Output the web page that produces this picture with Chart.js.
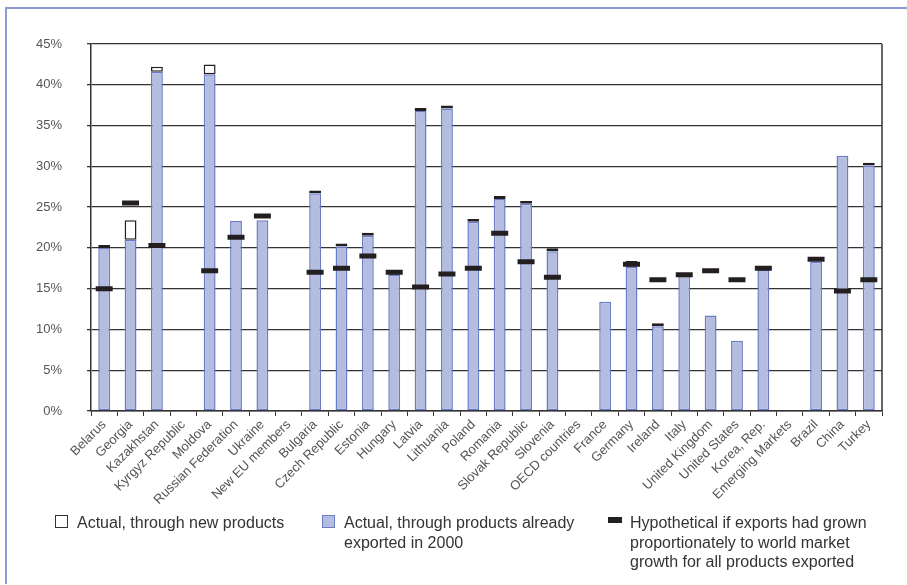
<!DOCTYPE html>
<html>
<head>
<meta charset="utf-8">
<script src="https://cdn.jsdelivr.net/npm/chart.js@4/dist/chart.umd.min.js"></script>
<style>
    body { margin: 0; background: #fff; }
    #wrap { position: relative; width: 907px; height: 585px; overflow: hidden; font-family: "Liberation Sans", Arial, sans-serif; }
    #frame { position: absolute; left: 5px; top: 7px; width: 910px; height: 575px; border-left: 2px solid #8e9ad6; border-top: 2px solid #8e9ad6; }
    #chart { position: absolute; left: 0; top: 0; }
    .lg { position: absolute; font-size: 16px; line-height: 19.5px; color: #333; }
    .sw { position: absolute; box-sizing: border-box; }
</style>
</head>
<body>
<div id="wrap">
    <div id="frame"></div>
    <canvas id="chart" width="907" height="585"></canvas>

    <div class="sw" style="left:55px;top:515px;width:13px;height:13px;background:#fff;border:1.5px solid #333;"></div>
    <div class="lg" style="left:77px;top:513px;">Actual, through new products</div>

    <div class="sw" style="left:322px;top:515px;width:13px;height:13px;background:#b4bce0;border:1.5px solid #6a7cc4;"></div>
    <div class="lg" style="left:344px;top:513px;">Actual, through products already<br>exported in 2000</div>

    <div class="sw" style="left:608px;top:517px;width:14px;height:6px;background:#231f20;"></div>
    <div class="lg" style="left:630px;top:513px;">Hypothetical if exports had grown<br>proportionately to world market<br>growth for all products exported</div>
</div>

<script>
// Export growth decomposition, %
const countries = ['Belarus', 'Georgia', 'Kazakhstan', 'Kyrgyz Republic', 'Moldova', 'Russian Federation', 'Ukraine',
    'New EU members', 'Bulgaria', 'Czech Republic', 'Estonia', 'Hungary', 'Latvia', 'Lithuania', 'Poland', 'Romania',
    'Slovak Republic', 'Slovenia', 'OECD countries', 'France', 'Germany', 'Ireland', 'Italy', 'United Kingdom',
    'United States', 'Korea, Rep.', 'Emerging Markets', 'Brazil', 'China', 'Turkey'];

const existingProducts = [20.0, 21.0, 41.6, null, 41.3, 23.3, 23.4,
    null, 26.7, 20.2, 21.5, 16.7, 36.8, 37.1, 23.2, 26.0,
    25.4, 19.6, null, 13.4, 17.7, 10.4, 16.6, 11.7,
    8.6, 17.3, null, 18.3, 31.3, 30.1];

const newProducts = [0.35, 2.4, 0.6, null, 1.2, null, null,
    null, 0.35, 0.35, 0.35, 0.6, 0.35, 0.35, 0.35, 0.35,
    0.35, 0.35, null, null, 0.7, 0.35, null, null,
    null, null, null, null, null, 0.35];

const hypothetical = [15.0, 25.5, 20.3, null, 17.2, 21.3, 23.9,
    null, 17.0, 17.5, 19.0, 17.0, 15.2, 16.8, 17.5, 21.8,
    18.3, 16.4, null, null, 18.0, 16.1, 16.7, 17.2,
    16.1, 17.5, null, 18.6, 14.7, 16.1];

const yTicks = [0, 5, 10, 15, 20, 25, 30, 35, 40, 45];

const axisColor = '#333';
const tickFont = { family: "'Liberation Sans', Arial, sans-serif", size: 13 };

// draws the right edge of the plot box
const rightEdge = {
    id: 'rightEdge',
    afterDraw(chart) {
        const a = chart.chartArea;
        const ctx = chart.ctx;
        ctx.save();
        ctx.strokeStyle = axisColor;
        ctx.lineWidth = 1.5;
        ctx.beginPath();
        ctx.moveTo(a.right, a.top);
        ctx.lineTo(a.right, a.bottom);
        ctx.stroke();
        ctx.restore();
    }
};

new Chart(document.getElementById('chart'), {
    data: {
        labels: countries,
        datasets: [
            {
                type: 'line',
                label: 'Hypothetical if exports had grown proportionately to world market growth for all products exported',
                data: hypothetical,
                showLine: false,
                pointStyle: 'line',
                pointRadius: 8.5,
                pointBorderWidth: 5,
                pointBorderColor: '#231f20',
                stack: 'hyp',
                order: 0
            },
            {
                type: 'bar',
                label: 'Actual, through products already exported in 2000',
                data: existingProducts,
                backgroundColor: '#b4bce0',
                borderColor: '#6a7cc4',
                borderWidth: 1.5,
                borderSkipped: false,
                stack: 'actual',
                order: 1
            },
            {
                type: 'bar',
                label: 'Actual, through new products',
                data: newProducts,
                backgroundColor: '#ffffff',
                borderColor: '#231f20',
                borderWidth: 1.5,
                borderSkipped: false,
                stack: 'actual',
                order: 1
            }
        ]
    },
    options: {
        responsive: false,
        animation: false,
        events: [],
        datasets: { bar: { categoryPercentage: 1, barPercentage: 0.45 } },
        layout: { padding: { left: 0, top: 44, right: 25, bottom: 0 } },
        plugins: {
            legend: { display: false },
            tooltip: { enabled: false }
        },
        scales: {
            x: {
                stacked: true,
                offset: true,
                afterFit: s => { s.height = 174; },
                grid: { display: true, offset: true, drawOnChartArea: false, drawTicks: true, tickLength: 5, color: axisColor, lineWidth: 1 },
                border: { color: axisColor, width: 1.5 },
                ticks: {
                    autoSkip: false,
                    maxRotation: 45,
                    minRotation: 45,
                    padding: 1,
                    color: '#555',
                    font: tickFont
                }
            },
            y: {
                stacked: true,
                min: 0,
                max: 45,
                afterFit: s => { s.width = 91; },
                afterBuildTicks: s => { s.ticks = yTicks.map(v => ({ value: v })); },
                grid: { color: axisColor, lineWidth: 1.3, tickLength: 4 },
                border: { color: axisColor, width: 1.5 },
                ticks: {
                    padding: 25,
                    color: '#555',
                    font: tickFont,
                    callback: v => v + '%'
                }
            }
        }
    },
    plugins: [rightEdge]
});
</script>
</body>
</html>
